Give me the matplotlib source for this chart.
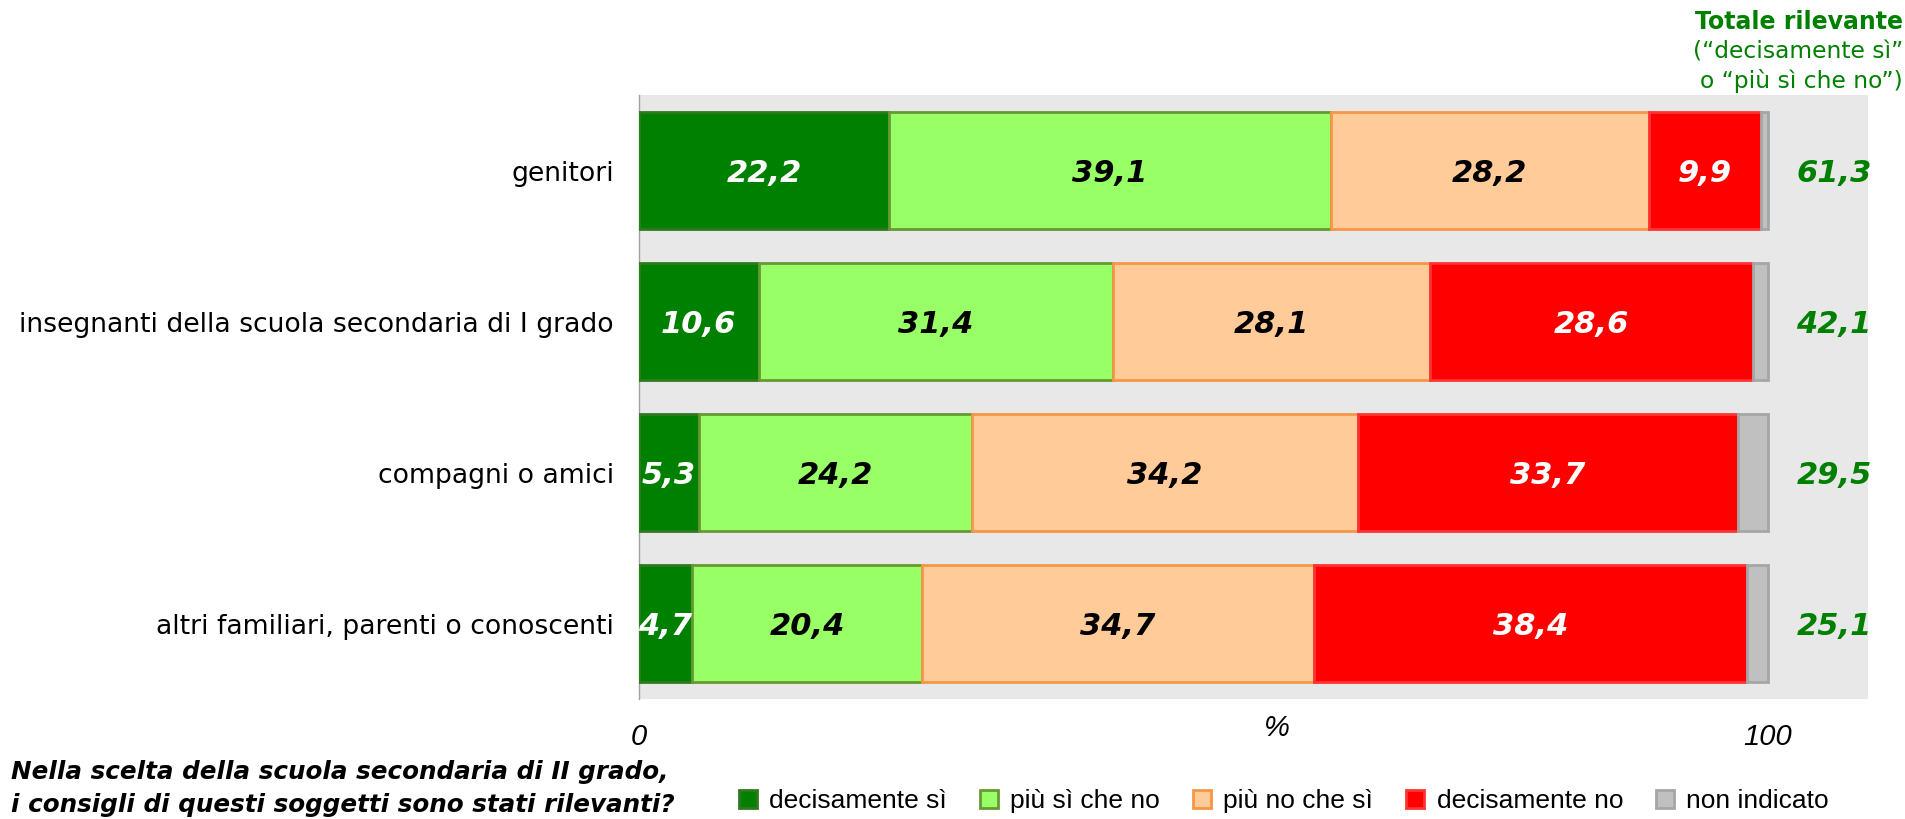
import numpy as np
import matplotlib
matplotlib.use('Agg')
import matplotlib.pyplot as plt
from matplotlib.lines import Line2D

categorie = ['genitori',
             'insegnanti della scuola secondaria di I grado',
             'compagni o amici',
             'altri familiari, parenti o conoscenti']
serie = ['decisamente sì', 'più sì che no', 'più no che sì',
         'decisamente no', 'non indicato']
decisamente_si = [22.2, 10.6, 5.3, 4.7]
piu_si = [39.1, 31.4, 24.2, 20.4]
piu_no = [28.2, 28.1, 34.2, 34.7]
decisamente_no = [9.9, 28.6, 33.7, 38.4]
non_indicato = [0.6, 1.3, 2.6, 1.8]
totale = [61.3, 42.1, 29.5, 25.1]

colori = ['#008000', '#99ff66', '#ffcc99', '#ff0000', '#c0c0c0']
bordi = ['#2f7a1f', '#669933', '#f79646', '#ff3333', '#a6a6a6']
col_testo = ['white', 'black', 'black', 'white', None]
verde = '#008000'

plt.rcParams['font.family'] = 'DejaVu Sans'
fig = plt.figure(figsize=(19.05, 8.19), dpi=100)
ax = fig.add_axes([0.3354, 0.1465, 0.6452, 0.7375])
ax.set_facecolor('#e8e8e8')

y = np.arange(len(categorie))
valori = [decisamente_si, piu_si, piu_no, decisamente_no, non_indicato]
left = np.zeros(len(categorie))
for k, vals in enumerate(valori):
    vals = np.array(vals)
    ax.barh(y, vals, left=left, height=0.78, color=colori[k],
            edgecolor=bordi[k], linewidth=2, zorder=3)
    if col_testo[k] is not None:
        for i, v in enumerate(vals):
            ax.text(left[i] + v / 2, y[i] + 0.02, f'{v:.1f}'.replace('.', ','),
                    ha='center', va='center', fontsize=22, fontweight='bold',
                    fontstyle='italic', color=col_testo[k], zorder=4)
    left += vals

for i, t in enumerate(totale):
    ax.text(105.9, y[i] + 0.02, f'{t:.1f}'.replace('.', ','), ha='center',
            va='center', fontsize=22, fontweight='bold', fontstyle='italic',
            color=verde)

ax.set_xlim(0, 108.9)
ax.set_ylim(3.5, -0.5)
ax.set_yticks(y)
ax.set_yticklabels(categorie, fontsize=19.2)
ax.tick_params(axis='y', length=0, pad=18)
ax.set_xticks([])
for s in ['top', 'right', 'bottom']:
    ax.spines[s].set_visible(False)
ax.spines['left'].set_color('#a0a0a0')
ax.spines['left'].set_linewidth(1)

narrow = 'Liberation Sans'
ax.text(0, -0.04, '0', transform=ax.get_xaxis_transform(), ha='center', va='top',
        fontsize=21, fontstyle='italic', family=narrow)
ax.text(100, -0.04, '100', transform=ax.get_xaxis_transform(), ha='center', va='top',
        fontsize=21, fontstyle='italic', family=narrow)
ax.text(56.5, -0.025, '%', transform=ax.get_xaxis_transform(), ha='center', va='top',
        fontsize=21, fontstyle='italic', family=narrow)

# intestazione a destra
fig.text(0.999, 0.973, 'Totale rilevante', ha='right', va='center', fontsize=17,
         fontweight='bold', color=verde)
fig.text(0.999, 0.937, '(“decisamente sì”', ha='right', va='center', fontsize=16.8,
         color=verde)
fig.text(0.999, 0.901, 'o “più sì che no”)', ha='right', va='center', fontsize=16.8,
         color=verde)

# domanda
fig.text(0.006, 0.057, 'Nella scelta della scuola secondaria di II grado,', ha='left',
         va='center', fontsize=17.7, fontweight='bold', fontstyle='italic')
fig.text(0.006, 0.017, 'i consigli di questi soggetti sono stati rilevanti?', ha='left',
         va='center', fontsize=17.7, fontweight='bold', fontstyle='italic')

handles = [Line2D([], [], marker='s', linestyle='none', markersize=13,
                  markerfacecolor=colori[k], markeredgecolor=bordi[k],
                  markeredgewidth=2) for k in range(len(serie))]
fig.legend(handles, serie, loc='center', bbox_to_anchor=(0.673, 0.022), ncol=5,
           frameon=False, handletextpad=0.3, columnspacing=1.1, handlelength=1.0,
           prop={'family': narrow, 'size': 19})

fig.savefig('out.png', dpi=100)
